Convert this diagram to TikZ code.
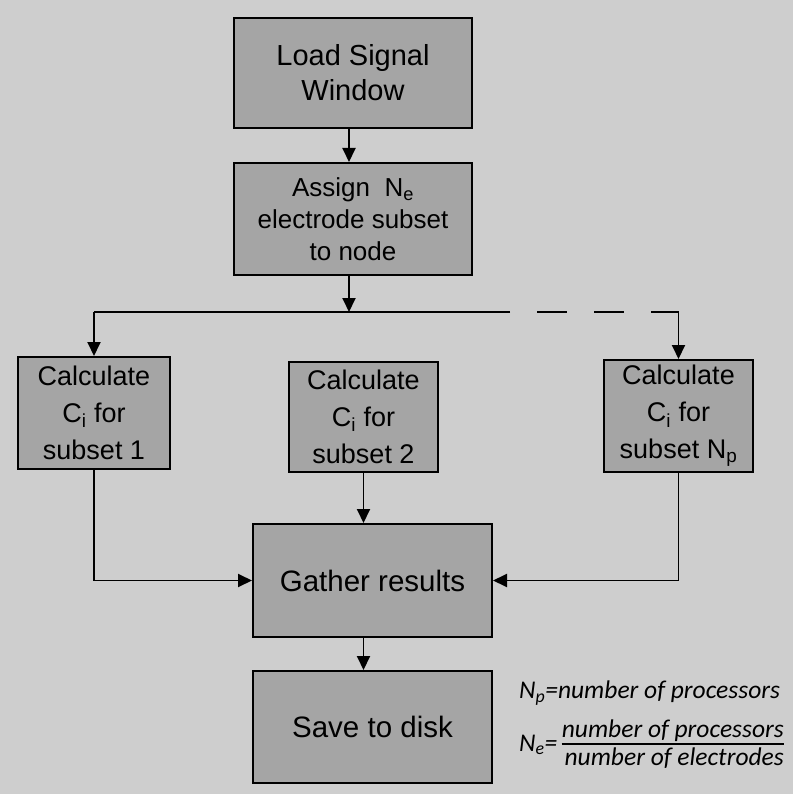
\documentclass[tikz,border=0pt]{standalone}
\usepackage{fontspec}
\setmainfont{Liberation Sans}
\newfontfamily\legendfont{Carlito}
\usetikzlibrary{arrows.meta}
\definecolor{bgc}{RGB}{206,206,206}
\definecolor{boxc}{RGB}{165,165,165}
\tikzset{
  box/.style={draw=black, line width=2pt, fill=boxc, align=center, inner sep=0pt, text=black},
  conn/.style={line width=1.9pt, -{Triangle[length=14pt,width=13pt]}},
  plainline/.style={line width=1.9pt},
  legend/.style={inner sep=0pt, font=\legendfont\itshape\fontsize{25.5}{28}\selectfont},
  bigtext/.style={font=\fontsize{29}{35}\selectfont},
  midtext/.style={font=\fontsize{26}{32}\selectfont},
  calctext/.style={font=\fontsize{27}{37}\selectfont},
  boldtext/.style={font=\fontsize{29.5}{34}\selectfont},
}
\begin{document}
\begin{tikzpicture}[x=1pt,y=-1pt]
\fill[bgc] (0,0) rectangle (793,794);
\useasboundingbox (0,0) rectangle (793,794);

\node[box, bigtext, minimum width=238pt, minimum height=110pt] (load) at (353,73) {Load Signal\\Window};
\node[box, midtext, minimum width=238pt, minimum height=112pt] (assign) at (353,219) {Assign\ \ N\textsubscript{e}\\electrode subset\\to node};
\node[box, calctext, minimum width=152pt, minimum height=112pt] (calc1) at (94,413) {Calculate\\C\textsubscript{i} for\\subset 1};
\node[box, calctext, minimum width=149pt, minimum height=110pt] (calc2) at (363.5,417) {Calculate\\C\textsubscript{i} for\\subset 2};
\node[box, calctext, minimum width=149pt, minimum height=112pt] (calc3) at (678.5,416) {Calculate\\C\textsubscript{i} for\\subset N\textsubscript{p}};
\node[box, boldtext, minimum width=239pt, minimum height=113pt] (gather) at (372.5,580.5) {Gather results};
\node[box, boldtext, minimum width=239pt, minimum height=112pt] (save) at (372.5,727) {Save to disk};

% connectors
\draw[conn] ([xshift=-4pt]load.south) -- ([xshift=-4pt]assign.north);
\coordinate (hub) at (349,312);
\draw[conn] ([xshift=-4pt]assign.south) -- (hub);
\coordinate (lcorner) at (calc1.north |- hub);
\coordinate (dashstart) at (510,312);
\coordinate (rcorner) at (calc3.north |- hub);
\draw[plainline] (dashstart) -- (lcorner);
\draw[conn] (lcorner) -- (calc1.north);
\draw[plainline, dash pattern=on 30pt off 27pt, dash phase=30pt] (dashstart) -- (rcorner);
\draw[conn] (rcorner) -- (calc3.north);
\draw[conn] (calc1.south) |- (gather.west);
\draw[conn] (calc3.south) |- (gather.east);
\draw[conn] (calc2.south) -- (calc2.south |- gather.north);
\draw[conn] (calc2.south |- gather.south) -- (calc2.south |- save.north);

% legend
\node[legend, anchor=west] (np) at (519,693) {N\textsubscript{p}=number of processors};
\node[legend, anchor=west] (ne) at (519,745) {N\textsubscript{e}=};
\node[legend, anchor=east] (num) at (784,731) {number of processors};
\node[legend, anchor=east] (den) at (784,758) {number of electrodes};
\draw[line width=2.4pt] (num.west |- 0,744) -- (num.east |- 0,744);
\end{tikzpicture}
\end{document}
